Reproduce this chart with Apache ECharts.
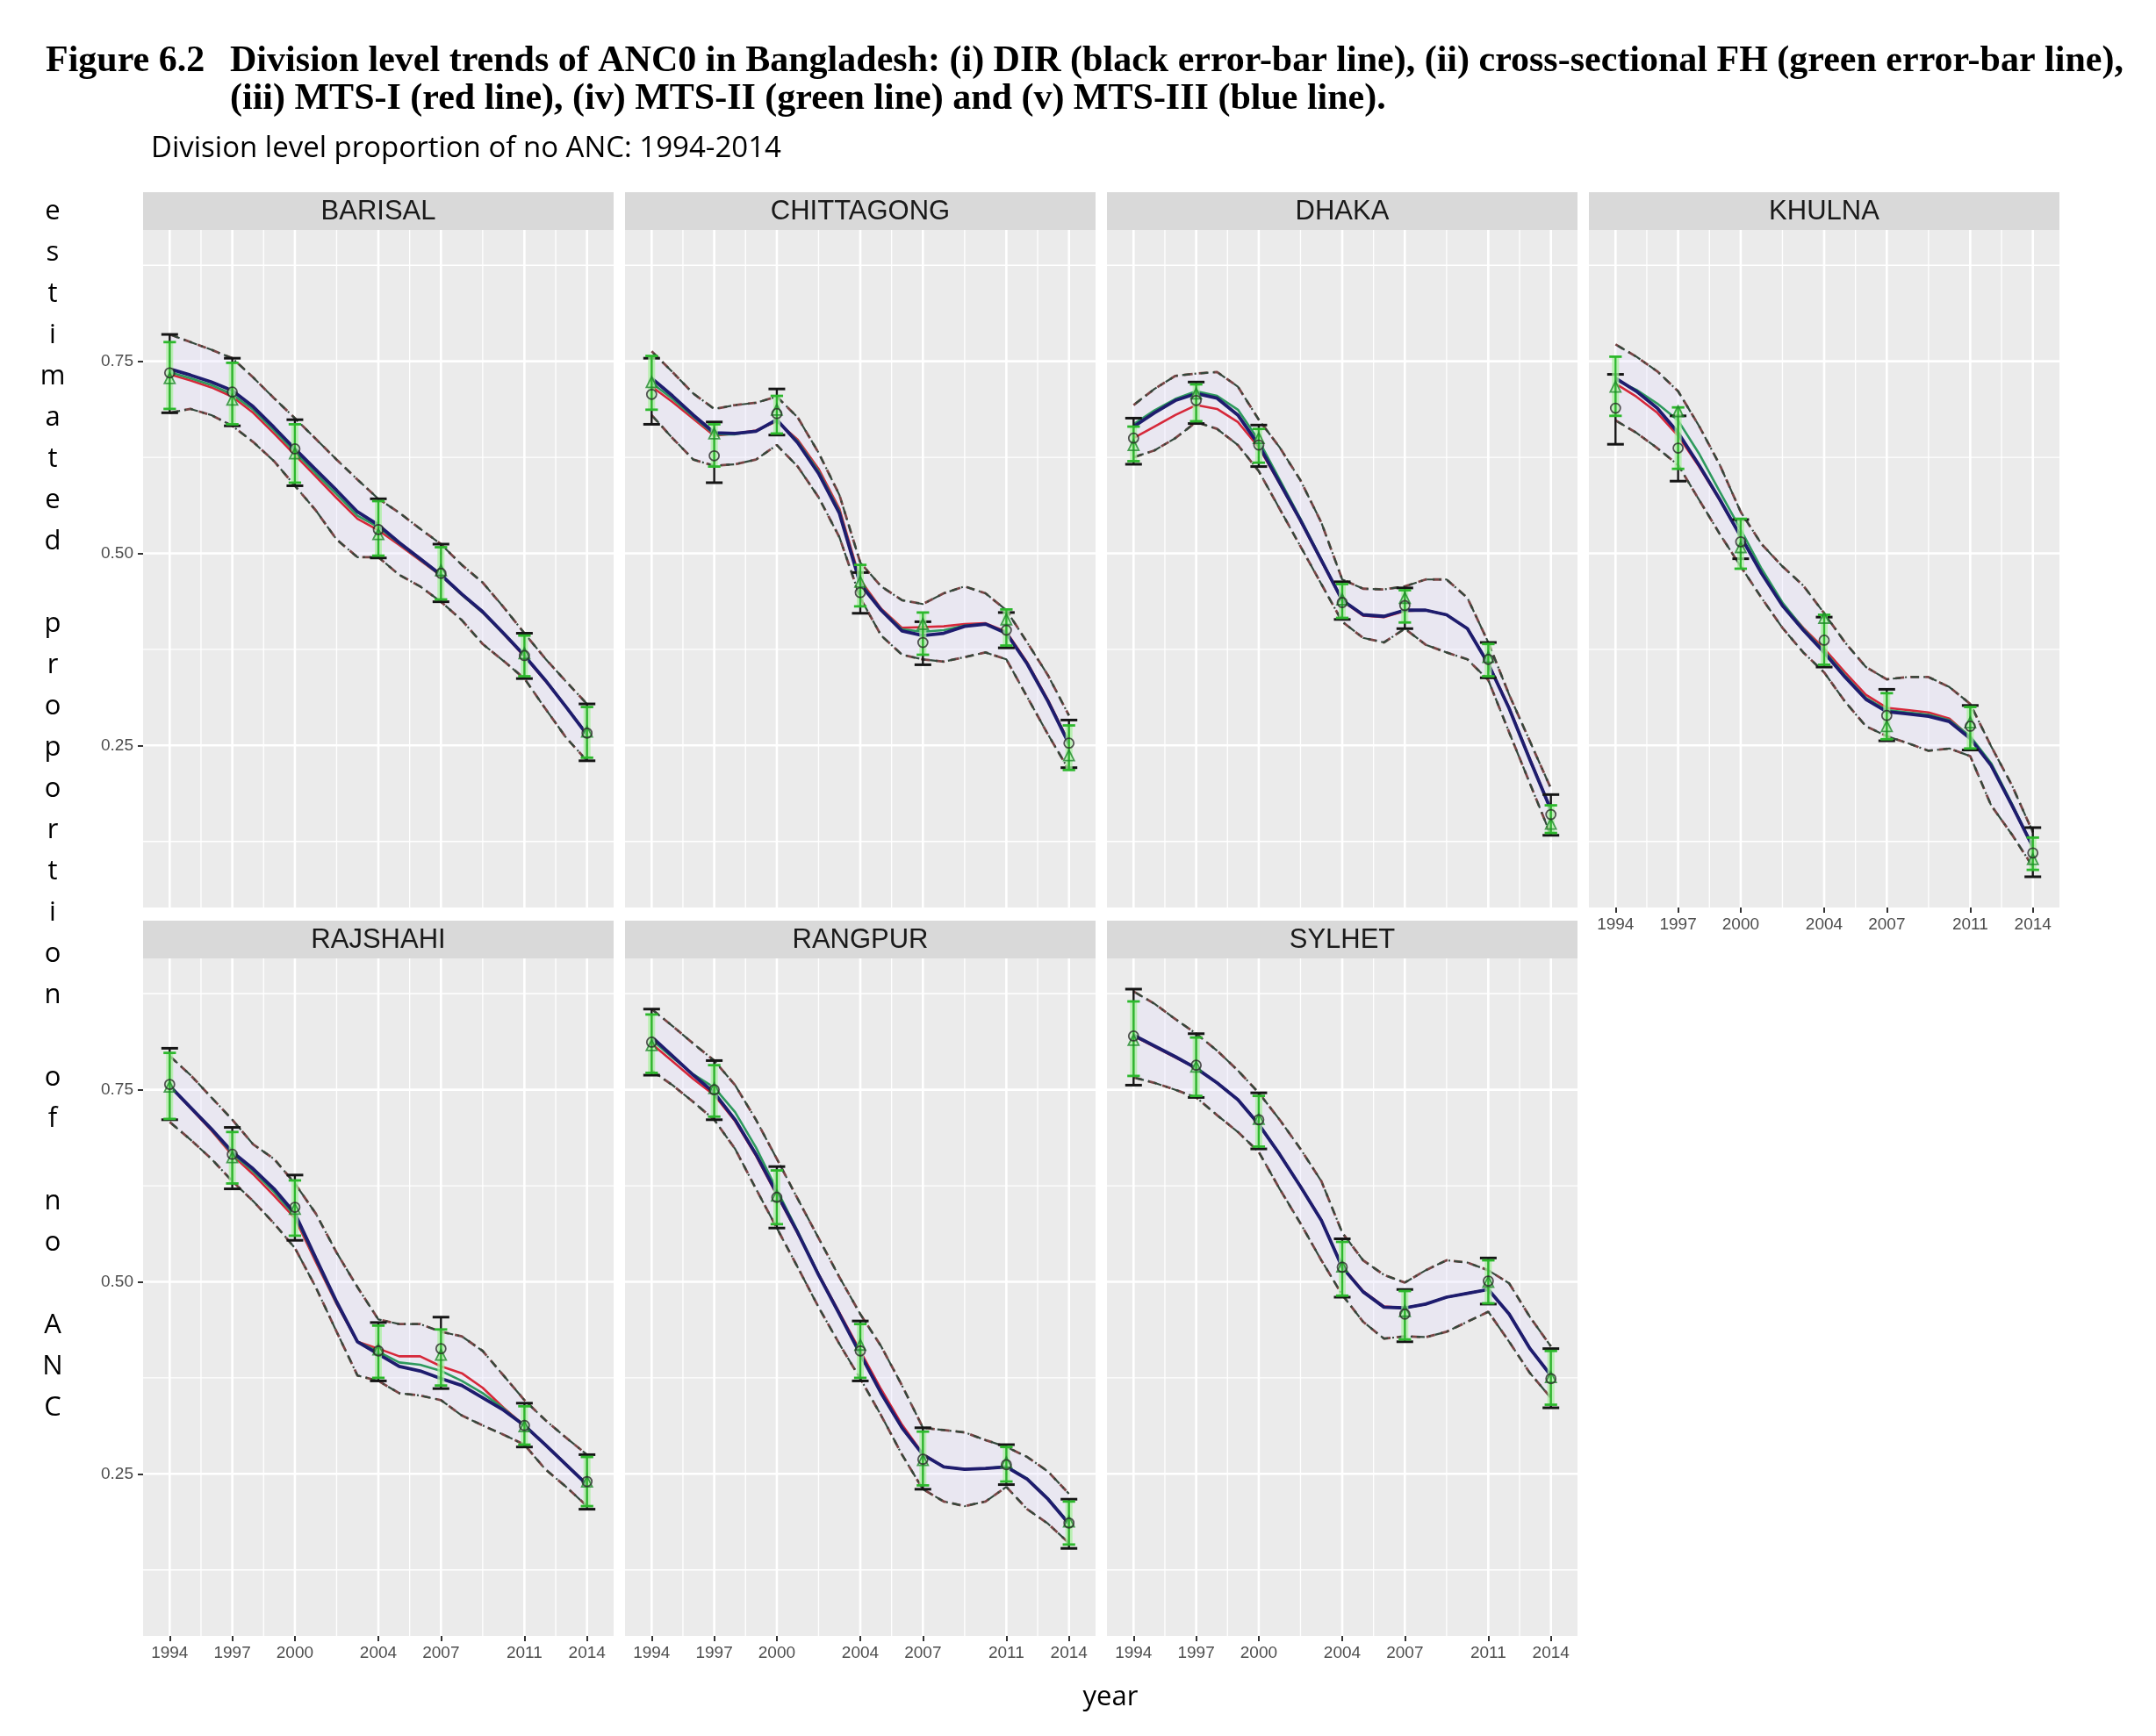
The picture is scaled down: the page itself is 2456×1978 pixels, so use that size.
<!DOCTYPE html>
<html><head><meta charset="utf-8">
<script src="https://cdn.jsdelivr.net/npm/echarts@6/dist/echarts.min.js"></script>
<style>html,body{margin:0;padding:0;background:#fff}#c{width:2456px;height:1978px}</style>
</head><body><div id="c"></div>
<script>
// ---------- shared axes data ----------
const years = [1994,1995,1996,1997,1998,1999,2000,2001,2002,2003,2004,2005,2006,2007,2008,2009,2010,2011,2012,2013,2014];
const surveyYears = [1994,1997,2000,2004,2007,2011,2014];
const xMajorTicks = [1994,1997,2000,2004,2007,2011,2014];
const xMinorTicks = [1995.5,1998.5,2002,2005.5,2009,2012.5];
const yMajorTicks = [0.25,0.5,0.75];
const yMinorTicks = [0.125,0.375,0.625,0.875];
const divisions = ['BARISAL','CHITTAGONG','DHAKA','KHULNA','RAJSHAHI','RANGPUR','SYLHET'];

// ---------- BARISAL ----------
const barisalDir   = [0.735,0.710,0.636,0.531,0.474,0.367,0.266];
const barisalDirLo = [0.683,0.666,0.588,0.494,0.437,0.337,0.230];
const barisalDirHi = [0.785,0.754,0.674,0.571,0.512,0.396,0.304];
const barisalFh    = [0.728,0.700,0.630,0.525,0.478,0.370,0.268];
const barisalFhLo  = [0.688,0.668,0.592,0.497,0.440,0.340,0.234];
const barisalFhHi  = [0.775,0.748,0.668,0.568,0.508,0.393,0.300];
const barisalMts1  = [0.733,0.725,0.716,0.704,0.683,0.656,0.628,0.600,0.572,0.545,0.530,0.511,0.491,0.471,0.446,0.423,0.395,0.366,0.334,0.300,0.265];
const barisalMts2  = [0.736,0.728,0.719,0.707,0.687,0.660,0.632,0.604,0.577,0.549,0.534,0.513,0.492,0.471,0.446,0.423,0.395,0.367,0.335,0.300,0.265];
const barisalMts3  = [0.740,0.732,0.723,0.712,0.691,0.664,0.636,0.609,0.582,0.554,0.537,0.514,0.493,0.472,0.447,0.424,0.396,0.367,0.335,0.300,0.264];
const barisalUpper = [0.785,0.775,0.765,0.754,0.729,0.702,0.676,0.649,0.622,0.596,0.571,0.553,0.532,0.512,0.485,0.462,0.430,0.396,0.363,0.333,0.304];
const barisalLower = [0.683,0.688,0.680,0.666,0.645,0.620,0.588,0.556,0.518,0.495,0.495,0.472,0.457,0.437,0.413,0.382,0.360,0.337,0.298,0.260,0.230];

// ---------- CHITTAGONG ----------
const chittagongDir   = [0.707,0.627,0.682,0.449,0.384,0.400,0.253];
const chittagongDirLo = [0.668,0.592,0.654,0.422,0.355,0.377,0.221];
const chittagongDirHi = [0.754,0.671,0.714,0.475,0.411,0.423,0.283];
const chittagongFh    = [0.723,0.656,0.687,0.463,0.408,0.414,0.237];
const chittagongFhLo  = [0.687,0.613,0.656,0.431,0.368,0.380,0.218];
const chittagongFhHi  = [0.757,0.668,0.705,0.485,0.423,0.427,0.276];
const chittagongMts1  = [0.717,0.697,0.675,0.653,0.656,0.660,0.672,0.648,0.610,0.558,0.465,0.428,0.403,0.404,0.405,0.408,0.409,0.398,0.358,0.309,0.254];
const chittagongMts2  = [0.722,0.701,0.678,0.655,0.655,0.659,0.673,0.646,0.607,0.555,0.462,0.427,0.401,0.398,0.400,0.406,0.408,0.397,0.357,0.308,0.253];
const chittagongMts3  = [0.728,0.705,0.680,0.657,0.656,0.659,0.674,0.644,0.604,0.552,0.460,0.426,0.399,0.393,0.396,0.405,0.408,0.396,0.356,0.307,0.252];
const chittagongUpper = [0.763,0.736,0.708,0.688,0.693,0.696,0.704,0.677,0.631,0.576,0.488,0.457,0.439,0.434,0.448,0.457,0.448,0.426,0.384,0.341,0.289];
const chittagongLower = [0.680,0.650,0.622,0.614,0.616,0.622,0.641,0.613,0.573,0.521,0.442,0.393,0.368,0.362,0.359,0.365,0.371,0.362,0.313,0.264,0.218];

// ---------- DHAKA ----------
const dhakaDir   = [0.650,0.699,0.641,0.436,0.432,0.362,0.160];
const dhakaDirLo = [0.616,0.669,0.613,0.414,0.402,0.338,0.133];
const dhakaDirHi = [0.676,0.723,0.667,0.463,0.455,0.384,0.186];
const dhakaFh    = [0.641,0.708,0.650,0.440,0.442,0.365,0.148];
const dhakaFhLo  = [0.620,0.672,0.618,0.416,0.410,0.340,0.136];
const dhakaFhHi  = [0.665,0.720,0.662,0.460,0.452,0.382,0.172];
const dhakaMts1  = [0.650,0.665,0.680,0.693,0.688,0.671,0.638,0.591,0.542,0.490,0.438,0.419,0.417,0.425,0.426,0.420,0.402,0.357,0.299,0.232,0.166];
const dhakaMts2  = [0.668,0.686,0.701,0.711,0.705,0.687,0.647,0.596,0.545,0.492,0.439,0.420,0.418,0.426,0.426,0.420,0.402,0.357,0.298,0.231,0.166];
const dhakaMts3  = [0.665,0.683,0.699,0.708,0.702,0.680,0.641,0.592,0.543,0.491,0.439,0.420,0.418,0.426,0.426,0.420,0.402,0.356,0.298,0.231,0.166];
const dhakaUpper = [0.693,0.714,0.731,0.734,0.736,0.717,0.674,0.638,0.595,0.540,0.466,0.454,0.453,0.457,0.466,0.466,0.442,0.384,0.316,0.255,0.194];
const dhakaLower = [0.625,0.634,0.650,0.671,0.662,0.641,0.607,0.558,0.509,0.460,0.411,0.390,0.384,0.402,0.381,0.371,0.362,0.335,0.267,0.200,0.133];

// ---------- KHULNA ----------
const khulnaDir   = [0.689,0.637,0.515,0.387,0.289,0.275,0.110];
const khulnaDirLo = [0.642,0.594,0.493,0.352,0.256,0.244,0.079];
const khulnaDirHi = [0.733,0.679,0.544,0.417,0.323,0.302,0.143];
const khulnaFh    = [0.717,0.685,0.508,0.416,0.275,0.280,0.102];
const khulnaFhLo  = [0.679,0.610,0.480,0.355,0.258,0.246,0.088];
const khulnaFhHi  = [0.756,0.690,0.545,0.420,0.318,0.300,0.130];
const khulnaMts1  = [0.721,0.704,0.683,0.653,0.613,0.569,0.522,0.475,0.434,0.403,0.376,0.345,0.316,0.299,0.296,0.293,0.285,0.261,0.225,0.172,0.117];
const khulnaMts2  = [0.726,0.713,0.695,0.673,0.630,0.580,0.531,0.480,0.436,0.402,0.373,0.341,0.312,0.296,0.293,0.290,0.283,0.262,0.227,0.174,0.118];
const khulnaMts3  = [0.728,0.711,0.689,0.657,0.615,0.570,0.522,0.474,0.432,0.400,0.371,0.339,0.310,0.294,0.291,0.288,0.281,0.259,0.224,0.172,0.118];
const khulnaUpper = [0.772,0.756,0.737,0.711,0.666,0.615,0.554,0.512,0.483,0.458,0.422,0.384,0.352,0.336,0.339,0.339,0.326,0.304,0.249,0.198,0.137];
const khulnaLower = [0.673,0.657,0.637,0.615,0.570,0.525,0.483,0.442,0.403,0.371,0.345,0.307,0.275,0.262,0.253,0.243,0.246,0.236,0.172,0.134,0.092];

// ---------- RAJSHAHI ----------
const rajshahiDir   = [0.757,0.666,0.597,0.410,0.413,0.313,0.240];
const rajshahiDirLo = [0.711,0.621,0.554,0.371,0.361,0.285,0.204];
const rajshahiDirHi = [0.804,0.701,0.639,0.447,0.454,0.342,0.275];
const rajshahiFh    = [0.754,0.662,0.595,0.412,0.405,0.312,0.240];
const rajshahiFhLo  = [0.712,0.628,0.560,0.375,0.365,0.288,0.208];
const rajshahiFhHi  = [0.798,0.695,0.632,0.443,0.438,0.338,0.272];
const rajshahiMts1  = [0.755,0.726,0.697,0.665,0.640,0.612,0.583,0.526,0.471,0.422,0.413,0.403,0.403,0.390,0.381,0.362,0.336,0.313,0.288,0.262,0.236];
const rajshahiMts2  = [0.755,0.727,0.698,0.667,0.644,0.617,0.586,0.529,0.472,0.422,0.409,0.395,0.392,0.384,0.371,0.355,0.335,0.313,0.288,0.262,0.236];
const rajshahiMts3  = [0.755,0.727,0.699,0.669,0.647,0.621,0.589,0.531,0.474,0.422,0.406,0.390,0.384,0.374,0.365,0.349,0.333,0.313,0.288,0.262,0.236];
const rajshahiUpper = [0.794,0.769,0.740,0.711,0.679,0.660,0.628,0.589,0.538,0.493,0.451,0.445,0.445,0.435,0.429,0.410,0.378,0.346,0.320,0.297,0.275];
const rajshahiLower = [0.708,0.685,0.660,0.631,0.605,0.576,0.544,0.493,0.435,0.378,0.371,0.355,0.352,0.346,0.326,0.313,0.301,0.288,0.256,0.233,0.208];

// ---------- RANGPUR ----------
const rangpurDir   = [0.812,0.750,0.610,0.410,0.269,0.262,0.186];
const rangpurDirLo = [0.769,0.711,0.570,0.371,0.230,0.236,0.153];
const rangpurDirHi = [0.855,0.788,0.650,0.449,0.310,0.288,0.217];
const rangpurFh    = [0.808,0.752,0.612,0.418,0.268,0.265,0.188];
const rangpurFhLo  = [0.772,0.715,0.575,0.375,0.235,0.240,0.158];
const rangpurFhHi  = [0.848,0.782,0.645,0.445,0.305,0.285,0.214];
const rangpurMts1  = [0.810,0.787,0.764,0.743,0.709,0.664,0.613,0.563,0.510,0.460,0.410,0.360,0.314,0.276,0.259,0.256,0.257,0.259,0.243,0.217,0.185];
const rangpurMts2  = [0.815,0.792,0.770,0.753,0.721,0.675,0.620,0.566,0.510,0.458,0.406,0.355,0.310,0.275,0.259,0.256,0.257,0.260,0.244,0.218,0.186];
const rangpurMts3  = [0.819,0.794,0.769,0.746,0.711,0.666,0.615,0.564,0.509,0.458,0.406,0.355,0.310,0.275,0.259,0.256,0.257,0.259,0.243,0.217,0.185];
const rangpurUpper = [0.855,0.833,0.810,0.788,0.756,0.711,0.660,0.608,0.557,0.506,0.458,0.416,0.365,0.310,0.307,0.304,0.294,0.285,0.272,0.253,0.224];
const rangpurLower = [0.775,0.756,0.734,0.711,0.673,0.621,0.570,0.519,0.467,0.419,0.374,0.326,0.275,0.230,0.214,0.208,0.214,0.233,0.204,0.185,0.160];

// ---------- SYLHET ----------
const sylhetDir   = [0.820,0.782,0.711,0.519,0.458,0.501,0.374];
const sylhetDirLo = [0.756,0.740,0.673,0.480,0.422,0.471,0.336];
const sylhetDirHi = [0.881,0.823,0.746,0.556,0.490,0.531,0.413];
const sylhetFh    = [0.815,0.780,0.712,0.520,0.462,0.500,0.376];
const sylhetFhLo  = [0.768,0.742,0.676,0.482,0.425,0.472,0.340];
const sylhetFhHi  = [0.865,0.818,0.742,0.552,0.488,0.528,0.410];
const sylhetMts1  = [0.820,0.806,0.792,0.778,0.759,0.737,0.705,0.666,0.624,0.580,0.520,0.488,0.468,0.466,0.471,0.480,0.485,0.490,0.458,0.413,0.378];
const sylhetMts2  = [0.821,0.807,0.793,0.778,0.759,0.737,0.705,0.666,0.624,0.580,0.519,0.487,0.467,0.466,0.471,0.480,0.485,0.490,0.458,0.413,0.378];
const sylhetMts3  = [0.821,0.807,0.793,0.778,0.759,0.737,0.705,0.666,0.624,0.580,0.519,0.487,0.467,0.466,0.471,0.480,0.485,0.490,0.458,0.413,0.378];
const sylhetUpper = [0.878,0.862,0.842,0.823,0.801,0.775,0.746,0.711,0.673,0.631,0.564,0.528,0.509,0.499,0.515,0.528,0.525,0.515,0.498,0.454,0.416];
const sylhetLower = [0.766,0.759,0.750,0.740,0.717,0.695,0.669,0.621,0.576,0.528,0.483,0.448,0.426,0.429,0.428,0.435,0.448,0.461,0.422,0.381,0.349];

// ---------- assemble ----------
const panels = [
  {dir:barisalDir,dirLo:barisalDirLo,dirHi:barisalDirHi,fh:barisalFh,fhLo:barisalFhLo,fhHi:barisalFhHi,m1:barisalMts1,m2:barisalMts2,m3:barisalMts3,up:barisalUpper,lo:barisalLower},
  {dir:chittagongDir,dirLo:chittagongDirLo,dirHi:chittagongDirHi,fh:chittagongFh,fhLo:chittagongFhLo,fhHi:chittagongFhHi,m1:chittagongMts1,m2:chittagongMts2,m3:chittagongMts3,up:chittagongUpper,lo:chittagongLower},
  {dir:dhakaDir,dirLo:dhakaDirLo,dirHi:dhakaDirHi,fh:dhakaFh,fhLo:dhakaFhLo,fhHi:dhakaFhHi,m1:dhakaMts1,m2:dhakaMts2,m3:dhakaMts3,up:dhakaUpper,lo:dhakaLower},
  {dir:khulnaDir,dirLo:khulnaDirLo,dirHi:khulnaDirHi,fh:khulnaFh,fhLo:khulnaFhLo,fhHi:khulnaFhHi,m1:khulnaMts1,m2:khulnaMts2,m3:khulnaMts3,up:khulnaUpper,lo:khulnaLower},
  {dir:rajshahiDir,dirLo:rajshahiDirLo,dirHi:rajshahiDirHi,fh:rajshahiFh,fhLo:rajshahiFhLo,fhHi:rajshahiFhHi,m1:rajshahiMts1,m2:rajshahiMts2,m3:rajshahiMts3,up:rajshahiUpper,lo:rajshahiLower},
  {dir:rangpurDir,dirLo:rangpurDirLo,dirHi:rangpurDirHi,fh:rangpurFh,fhLo:rangpurFhLo,fhHi:rangpurFhHi,m1:rangpurMts1,m2:rangpurMts2,m3:rangpurMts3,up:rangpurUpper,lo:rangpurLower},
  {dir:sylhetDir,dirLo:sylhetDirLo,dirHi:sylhetDirHi,fh:sylhetFh,fhLo:sylhetFhLo,fhHi:sylhetFhHi,m1:sylhetMts1,m2:sylhetMts2,m3:sylhetMts3,up:sylhetUpper,lo:sylhetLower}
];

const PANEL_W = 536, PANEL_H = 772, STRIP_H = 43;
const colLeft = [163, 712, 1261, 1810];
const rowTop = [262, 1092];
const X_MIN = 1992.725, X_MAX = 2015.275, Y_MIN = 0.039, Y_MAX = 0.921;

const grids = [], xAxes = [], yAxes = [], series = [], graphics = [];
const gridLineData = [];
xMajorTicks.forEach(v => gridLineData.push([0, v, 1]));
xMinorTicks.forEach(v => gridLineData.push([0, v, 0]));
yMajorTicks.forEach(v => gridLineData.push([1, v, 1]));
yMinorTicks.forEach(v => gridLineData.push([1, v, 0]));

function pairs(xs, ys) { return xs.map((x, i) => [x, ys[i]]); }

panels.forEach((p, i) => {
  const row = i < 4 ? 0 : 1;
  const col = i < 4 ? i : i - 4;
  const left = colLeft[col], top = rowTop[row];
  const showX = row === 1 || i === 3;
  const showY = col === 0;
  grids.push({left: left, top: top, width: PANEL_W, height: PANEL_H, containLabel: false, outerBoundsMode: 'none',
    show: true, backgroundColor: '#EBEBEB', borderWidth: 0});
  xAxes.push({type: 'value', gridIndex: i, min: X_MIN, max: X_MAX,
    axisLine: {show: false}, splitLine: {show: false}, minorTick: {show: false},
    axisTick: {show: showX, customValues: xMajorTicks, length: 6, lineStyle: {color: '#333', width: 2}},
    axisLabel: {show: showX, customValues: xMajorTicks, margin: 10, color: '#4D4D4D', fontSize: 19, fontFamily: 'Liberation Sans',
      formatter: v => String(Math.round(v))}});
  yAxes.push({type: 'value', gridIndex: i, min: Y_MIN, max: Y_MAX,
    axisLine: {show: false}, splitLine: {show: false},
    axisTick: {show: showY, customValues: yMajorTicks, length: 6, lineStyle: {color: '#333', width: 2}},
    axisLabel: {show: showY, customValues: yMajorTicks, margin: 11, color: '#4D4D4D', fontSize: 19, fontFamily: 'Liberation Sans',
      formatter: v => v.toFixed(2)}});

  // strip
  graphics.push({type: 'rect', shape: {x: left, y: top - STRIP_H, width: PANEL_W, height: STRIP_H}, style: {fill: '#D9D9D9'}, silent: true});
  graphics.push({type: 'text', x: left + PANEL_W / 2, y: top - STRIP_H / 2 + 1,
    style: {text: divisions[i], fill: '#1A1A1A', font: '31px "Liberation Sans"', align: 'center', verticalAlign: 'middle'}, silent: true});

  const common = {xAxisIndex: i, yAxisIndex: i, silent: true, animation: false};

  // grid lines
  series.push(Object.assign({type: 'custom', z: 0, data: gridLineData,
    renderItem: (params, api) => {
      const cs = params.coordSys;
      const o = api.value(0), v = api.value(1), major = api.value(2);
      const lw = major ? 2.6 : 1.3;
      if (o === 0) {
        const x = api.coord([v, Y_MIN])[0];
        return {type: 'line', shape: {x1: x, y1: cs.y, x2: x, y2: cs.y + cs.height}, style: {stroke: '#FFFFFF', lineWidth: lw}};
      }
      const y = api.coord([X_MIN, v])[1];
      return {type: 'line', shape: {x1: cs.x, y1: y, x2: cs.x + cs.width, y2: y}, style: {stroke: '#FFFFFF', lineWidth: lw}};
    }}, common));

  // ribbon between the confidence bands
  series.push(Object.assign({type: 'custom', z: 1, data: [[years[0], p.up[0]]],
    renderItem: (params, api) => {
      const pts = [];
      years.forEach((y, k) => pts.push(api.coord([y, p.up[k]])));
      for (let k = years.length - 1; k >= 0; k--) pts.push(api.coord([years[k], p.lo[k]]));
      return {type: 'polygon', shape: {points: pts}, style: {fill: 'rgba(228,224,252,0.35)'}};
    }}, common));

  // confidence band lines (dashed red-brown and dot-dash dark green)
  [p.up, p.lo].forEach(arr => {
    series.push(Object.assign({type: 'line', z: 2, data: pairs(years, arr), showSymbol: false, symbol: 'none',
      lineStyle: {color: '#7a4646', width: 2.8, type: [10, 7]}}, common));
    series.push(Object.assign({type: 'line', z: 2, data: pairs(years, arr), showSymbol: false, symbol: 'none',
      lineStyle: {color: '#34483c', width: 2.2, type: [2, 5, 9, 5], dashOffset: 4}}, common));
  });

  // MTS lines
  series.push(Object.assign({type: 'line', z: 3, data: pairs(years, p.m1), showSymbol: false, symbol: 'none',
    lineStyle: {color: '#D6283A', width: 2.6}}, common));
  series.push(Object.assign({type: 'line', z: 3, data: pairs(years, p.m2), showSymbol: false, symbol: 'none',
    lineStyle: {color: '#2E9A5E', width: 2.6}}, common));
  series.push(Object.assign({type: 'line', z: 4, data: pairs(years, p.m3), showSymbol: false, symbol: 'none',
    lineStyle: {color: '#1E1C6E', width: 3.8}}, common));

  // error bars
  function errBar(lo, hi, halfW, color, width, halo) {
    return Object.assign({type: 'custom', z: 5, data: surveyYears.map((x, k) => [x, lo[k], hi[k]]), encode: {x: 0, y: [1, 2]},
      renderItem: (params, api) => {
        const x = api.value(0);
        const a = api.coord([x, api.value(2)]);
        const b = api.coord([x, api.value(1)]);
        const h = api.coord([x + halfW, api.value(1)])[0] - b[0];
        const children = [];
        if (halo) {
          children.push({type: 'line', shape: {x1: a[0], y1: a[1], x2: b[0], y2: b[1]}, style: {stroke: halo, lineWidth: 8}});
        }
        children.push({type: 'line', shape: {x1: a[0], y1: a[1], x2: b[0], y2: b[1]}, style: {stroke: color, lineWidth: width}});
        children.push({type: 'line', shape: {x1: a[0] - h, y1: a[1], x2: a[0] + h, y2: a[1]}, style: {stroke: color, lineWidth: width + 0.6}});
        children.push({type: 'line', shape: {x1: b[0] - h, y1: b[1], x2: b[0] + h, y2: b[1]}, style: {stroke: color, lineWidth: width + 0.6}});
        return {type: 'group', children: children};
      }}, common);
  }
  series.push(errBar(p.dirLo, p.dirHi, 0.4, '#151515', 2.4, null));
  series.push(errBar(p.fhLo, p.fhHi, 0.3, '#2DB82D', 2.2, 'rgba(170,240,160,0.75)'));

  // points
  series.push(Object.assign({type: 'scatter', z: 6, data: pairs(surveyYears, p.fh), symbol: 'triangle', symbolSize: 12,
    itemStyle: {color: 'rgba(0,0,0,0)', borderColor: '#1F8A2A', borderWidth: 1.8}}, common));
  series.push(Object.assign({type: 'scatter', z: 6, data: pairs(surveyYears, p.dir), symbol: 'circle', symbolSize: 11,
    itemStyle: {color: 'rgba(0,0,0,0)', borderColor: '#2A2A2A', borderWidth: 1.8}}, common));
});

// titles and axis names
const titleFont = 'bold 42px "Liberation Serif"';
graphics.push({type: 'text', x: 52, y: 70, style: {text: 'Figure 6.2', fill: '#000', font: titleFont, align: 'left', verticalAlign: 'middle'}});
graphics.push({type: 'text', x: 262, y: 70, style: {text: 'Division level trends of ANC0 in Bangladesh: (i) DIR (black error-bar line), (ii) cross-sectional FH (green error-bar line),', fill: '#000', font: titleFont, align: 'left', verticalAlign: 'middle'}});
graphics.push({type: 'text', x: 262, y: 113, style: {text: '(iii) MTS-I (red line), (iv) MTS-II (green line) and (v) MTS-III (blue line).', fill: '#000', font: titleFont, align: 'left', verticalAlign: 'middle'}});
graphics.push({type: 'text', x: 172, y: 170, style: {text: 'Division level proportion of no ANC: 1994-2014', fill: '#000', font: '33px "Open Sans"', align: 'left', verticalAlign: 'middle'}});
graphics.push({type: 'text', x: 60, y: 218, style: {text: 'estimated proportion of no ANC'.split('').join('\n'), fill: '#000', font: '31px "Open Sans"', lineHeight: 47, align: 'center', verticalAlign: 'top'}});
graphics.push({type: 'text', x: 1265, y: 1934, style: {text: 'year', fill: '#000', font: '31px "Open Sans"', align: 'center', verticalAlign: 'middle'}});

const chart = echarts.init(document.getElementById('c'), null, {renderer: 'canvas', width: 2456, height: 1978});
chart.setOption({animation: false, backgroundColor: '#FFFFFF', grid: grids, xAxis: xAxes, yAxis: yAxes, series: series, graphic: graphics});
</script>
</body></html>
